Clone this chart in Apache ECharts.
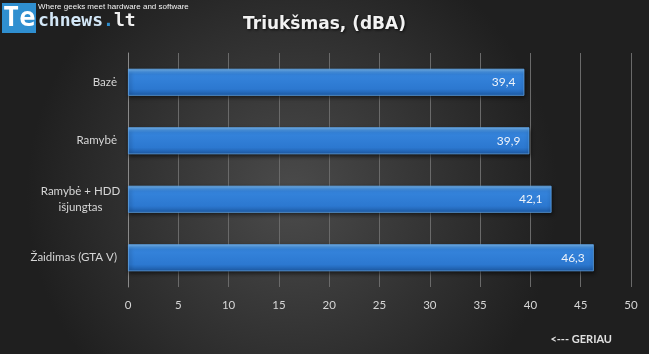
<!DOCTYPE html>
<html><head><meta charset="utf-8">
<script src="https://cdn.jsdelivr.net/npm/echarts@6/dist/echarts.min.js"></script>
<style>html,body{margin:0;padding:0;background:#2b2b2b}#c{width:649px;height:354px}</style>
</head><body><div id="c"></div>
<script>
const categories = ['Bazė', 'Ramybė', 'Ramybė + HDD\nišjungtas', 'Žaidimas (GTA V)'];
const values = [39.4, 39.9, 42.1, 46.3];
const titleText = 'Triukšmas, (dBA)';
const noteText = '<--- GERIAU';

const chart = echarts.init(document.getElementById('c'), null, {renderer: 'canvas'});
const barGrad = new echarts.graphic.LinearGradient(0, 0, 0, 1, [
  {offset: 0, color: '#7ab8f0'},
  {offset: 0.12, color: '#4794e4'},
  {offset: 0.2, color: '#3584dc'},
  {offset: 0.75, color: '#2c78d0'},
  {offset: 1, color: '#1d5aa4'}
]);
chart.setOption({
  backgroundColor: new echarts.graphic.RadialGradient(0.45, 0.55, 0.75, [
    {offset: 0, color: '#4b4b4b'},
    {offset: 1, color: '#1f1f1f'}
  ]),
  animation: false,
  title: {
    text: titleText, left: 'center', top: 11,
    textStyle: {color: '#f2f2f2', fontFamily: 'DejaVu Sans', fontWeight: 'bold', fontSize: 17,
      textShadowColor: 'rgba(0,0,0,0.8)', textShadowBlur: 3, textShadowOffsetX: 1, textShadowOffsetY: 1}
  },
  grid: {left: 128, right: 18, top: 53, bottom: 67},
  xAxis: {
    type: 'value', min: 0, max: 50, interval: 5,
    axisLine: {show: false}, axisTick: {show: false},
    splitLine: {show: true, lineStyle: {color: '#6a6a6a', width: 1}},
    axisLabel: {color: '#d6d6d6', fontFamily: 'Lato', fontSize: 11.5, margin: 12}
  },
  yAxis: {
    type: 'category', data: categories, inverse: true,
    axisLine: {show: true, lineStyle: {color: '#8a8a8a'}}, axisTick: {show: false},
    axisLabel: {
      color: '#d6d6d6', fontFamily: 'Lato', fontSize: 11.5, margin: 11, lineHeight: 16,
      formatter: function (v) {
        if (v.indexOf('\n') >= 0) {
          return v.split('\n').map(s => '{c|' + s + '}').join('\n');
        }
        return v;
      },
      rich: {c: {width: 73, align: 'center', color: '#d6d6d6', fontFamily: 'Lato', fontSize: 11.5, lineHeight: 16}}
    }
  },
  series: [{
    type: 'bar', data: values, barWidth: 27,
    itemStyle: {color: barGrad, borderColor: '#5ea4ea', borderWidth: 0.8,
      shadowColor: 'rgba(0,0,0,0.6)', shadowBlur: 4, shadowOffsetX: 1, shadowOffsetY: 2},
    label: {show: true, position: 'insideRight', distance: 9,
      formatter: p => String(p.value).replace('.', ','),
      color: '#eef3fa', fontFamily: 'Lato', fontSize: 12}
  }],
  graphic: [
    {type: 'rect', left: 2, top: 3, shape: {width: 34, height: 30}, style: {fill: '#2f8fd0'}},
    {type: 'text', left: 3, top: 5, style: {text: 'Te', fill: '#ffffff', font: 'bold 27px "DejaVu Sans Mono"'}},
    {type: 'text', left: 38, top: 12, style: {text: 'chnews', fill: '#d3e7f7', font: 'bold 18px "DejaVu Sans Mono"'}},
    {type: 'text', left: 103, top: 12, style: {text: '.', fill: '#2f8fd0', font: 'bold 18px "DejaVu Sans Mono"'}},
    {type: 'text', left: 114, top: 12, style: {text: 'lt', fill: '#f0f0f0', font: 'bold 18px "DejaVu Sans Mono"'}},
    {type: 'text', left: 38, top: 3, style: {text: 'Where geeks meet hardware and software', fill: '#f4f4f4', font: '8px "Liberation Sans"'}},
    {type: 'text', right: 37, top: 334, style: {text: noteText, fill: '#e0e0e0', font: 'bold 11px Lato'}}
  ]
});
</script></body></html>
